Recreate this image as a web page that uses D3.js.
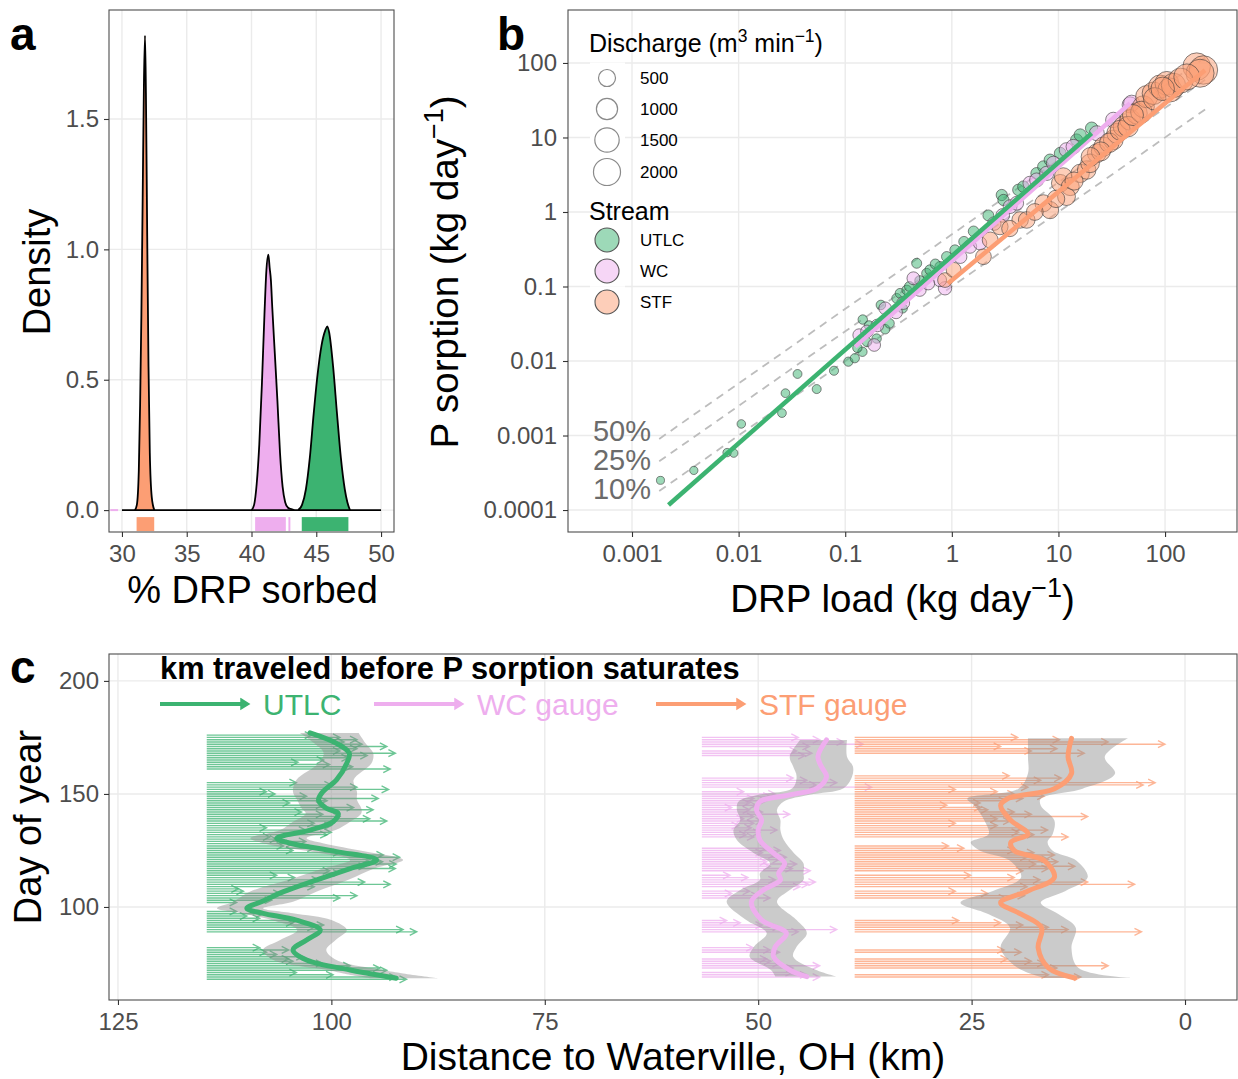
<!DOCTYPE html>
<html><head><meta charset="utf-8">
<script src="https://cdn.jsdelivr.net/npm/d3@7/dist/d3.min.js"></script>
<style>html,body{margin:0;padding:0;background:#fff;}</style>
</head><body>
<svg id="chart" width="1238" height="1079" xmlns="http://www.w3.org/2000/svg"></svg>
<script>
// ================= DATA =================
// Panel a : density of % DRP sorbed
const stfDensX=[31.0,31.15,31.3,31.4,31.5,31.6,31.7,31.78,31.85,31.95,32.05,32.15,32.3,32.5];
const stfDensY=[0,0.02,0.15,0.4,0.75,1.2,1.65,1.82,1.6,1.05,0.55,0.22,0.05,0];
const wcDensX=[40.0,40.2,40.4,40.6,40.8,41.0,41.15,41.3,41.4,41.5,41.6,41.8,42.0,42.2,42.4,42.6,42.8,43.0,43.3];
const wcDensY=[0,0.02,0.1,0.25,0.48,0.75,0.92,0.98,0.93,0.88,0.78,0.6,0.42,0.22,0.09,0.03,0.01,0.005,0];
const utlcDensX=[43.6,43.9,44.2,44.5,44.8,45.1,45.4,45.7,45.85,46.0,46.3,46.6,46.9,47.2,47.4,47.6];
const utlcDensY=[0,0.02,0.08,0.2,0.37,0.52,0.63,0.69,0.705,0.68,0.55,0.37,0.2,0.08,0.03,0];
const rugStream=['STF','WC','WC','UTLC'];
const rugFrom=[31.13,40.28,42.85,43.88];
const rugTo=[32.49,42.65,43.0,47.48];
const aTicksX=[30,35,40,45,50];
const aTicksY=[0,0.5,1,1.5];

// Panel b : P sorption vs DRP load (kg/day), discharge (m3/min)
const utlcLoad=[0.00185,0.0038,0.0078,0.009,0.0106,0.0255,0.0275,0.0357,0.054,0.0785,0.107,0.123,0.145,0.146,0.167,0.197,0.216,0.237,0.26,0.345,0.304,0.327,0.378,0.468,0.581,0.624,0.774,0.895,1.07,2.94,3.05,4.21,4.69,6.25,7.23,8.34,10.4,14.8,16.0,20.5,0.4,0.5,0.7,1.3,1.6,2.2,0.16,0.13];
const utlcSorp=[0.00025,0.00034,0.00059,0.00058,0.00143,0.0020,0.0037,0.0067,0.0042,0.0074,0.0098,0.0109,0.0133,0.036,0.030,0.020,0.0565,0.0267,0.032,0.051,0.0693,0.081,0.0897,0.205,0.150,0.167,0.185,0.251,0.309,1.69,1.45,1.98,2.19,3.30,4.06,4.99,6.14,9.27,10.8,13.3,0.10,0.12,0.20,0.40,0.55,0.90,0.018,0.015];
const utlcQ=[5,8,10,10,12,15,15,18,20,22,25,25,28,30,30,30,32,32,35,35,40,40,40,45,45,50,50,55,55,90,90,100,100,110,110,120,120,130,140,150,40,42,48,60,65,75,30,28];
const wcLoad=[0.135,0.187,0.237,0.436,0.863,0.774,1.48,1.84,3.52,4.06,5.41,6.25,7.76,11.9,13.8,22.9,32.7,47.0,48.6,0.3,0.35,0.5,0.6,0.2,1.2,2.5,3.0,9.0,0.16];
const wcSorp=[0.0223,0.0164,0.051,0.129,0.0946,0.122,0.343,0.380,1.18,1.31,2.43,2.69,3.30,6.81,7.53,11.4,17.2,27.4,28.8,0.045,0.06,0.09,0.11,0.03,0.25,0.7,0.9,4.5,0.025];
const wcQ=[150,160,160,170,200,190,200,200,230,230,250,250,260,280,290,320,350,400,420,165,170,175,180,160,195,215,220,265,155];
const stfLoad=[0.863,1.04,1.98,2.29,2.83,4.37,5.04,7.23,8.34,10.4,11.1,12.9,11.9,16.0,18.4,22.9,19.8,26.4,32.7,35.2,40.6,47.0,54.2,62.7,67.3,77.8,89.8,104,111,198,229,213,30,38,45,25,14,60,80,120,140,160,9.5,6,3.5,50,95,20];
const stfSorp=[0.122,0.167,0.251,0.421,0.635,0.782,0.782,1.31,1.06,2.43,2.98,2.19,1.61,3.30,3.66,6.14,4.50,7.53,9.27,11.4,14.0,17.2,21.1,25.9,35.3,39.2,48.2,53.3,43.4,89.3,80.5,72.8,8.5,12.5,14,6.5,2.6,22,33,50,58,65,1.5,1.0,0.6,20,45,5.5];
const stfQ=[300,320,380,400,420,450,460,500,520,560,580,600,590,640,660,700,680,740,800,820,880,950,1000,1100,1150,1200,1300,1400,1450,2100,2300,2200,780,850,900,720,620,1050,1200,1500,1600,1800,540,480,430,980,1350,690];
// fitted lines (end points)
const fitStream=['WC','UTLC','STF'];
const fitLoad0=[0.124,0.0022,0.92];
const fitSorp0=[0.0156,0.000117,0.11];
const fitLoad1=[47,20.5,237];
const fitSorp1=[28.8,11.4,80];
const refFrac=[0.5,0.25,0.1];
const refLabel=['50%','25%','10%'];
const refLoadRange=[0.0018,240];
const bTicksX=[0.001,0.01,0.1,1,10,100];
const bTicksY=[0.0001,0.001,0.01,0.1,1,10,100];
const sizeLegendQ=[500,1000,1500,2000];
const streamNames=['UTLC','WC','STF'];

// Panel c : km travelled before P sorption saturates
const utlcStartKm=114.6, wcStartKm=56.6, stfStartKm=38.7;
const utlcDays=[176,175,174,173,172,171,170,169,168,167,166,165,164,163,162,161,
155,154,153,152,151,150,149,148,147,146,145,144,143,142,141,140,139,138,137,136,135,134,133,132,131,130,129,128,127,126,125,124,123,122,121,120,119,118,117,116,115,114,113,112,111,110,109,108,107,106,105,104,103,102,
98,97,96,95,94,93,92,91,90,89,
82,81,80,79,78,77,76,75,74,73,72,71,70,69,68];
const utlcEnd=[102.3,99,97,98.5,96.4,93.5,97,99,92.5,95.8,98,100.9,103.9,100.2,97.5,93.1,
104.1,100,97.0,93.3,107.6,106.6,102.9,94.5,100.5,104.9,101,97.4,95.1,103.5,101,99,95.5,93.5,102,100,107.6,103,100,100.5,107.2,106.4,103,104.5,105.6,102,104.5,99,93.9,92,95.5,94,92.4,96,92.5,100.2,99,106.4,104.3,101.5,96.1,93.1,102,110.9,110.3,106,97.0,99,107,111.1,
111.1,108,109.9,108.4,104,104.5,100.9,102,91.6,90,
108.4,105,107.6,106.4,103.3,105,104.5,101,97.8,94.3,93.5,104.1,99.8,92.4,91.2];
const wcDays=[175,174,173,172,171,169,168,167,157,156,155,154,153,
151,150,149,148,147,146,145,144,143,142,141,140,139,138,137,136,135,134,133,132,131,
126,125,124,123,122,121,120,119,118,117,116,114,113,112,111,110,109,107,106,105,104,
94,93,92,91,90,89,82,81,80,77,76,75,74,73,71,70,69];
const wcEnd=[45.3,42.8,40.0,37.7,44,45.5,43.7,44.5,45.9,44.3,40.8,43.2,36.7,
51.7,48,48.6,50.5,49,51,50.2,53.1,51,49.5,46.3,50.5,51.7,49.5,50.5,52.3,50.8,47.8,49.8,51.4,50.5,
49,47.4,49.5,48,46.7,47.5,49,45.5,48.6,46,43.9,53.3,51.2,48,43.3,44.1,45.1,51,53.1,50,48.6,
53.7,52.1,49.5,47.5,40.8,45.3,50.6,48.6,47.5,49,48.5,47.5,42.8,45.9,46,44.3,42.8];
const stfDays=[175,174,173,172,171,170,169,168,
158,157,156,155,154,153,152,151,150,149,148,147,146,145,144,143,142,141,140,139,138,137,136,135,134,133,132,131,
127,126,125,124,123,122,121,120,119,118,117,116,114,113,112,111,110,109,107,106,105,104,
94,93,92,91,90,89,81,80,77,76,75,74,73,70,69];
const stfEnd=[19.6,14.7,9.0,2.35,21.6,15,18.0,11.8,
20.6,14.5,16.9,3.5,4.9,18.4,26.9,22,20,16.5,19,21,24,27.9,23.9,23.1,20,18.0,11.4,22,20.5,26.9,22,19,16.1,19.5,17.7,13.7,
27.7,25.9,20,17.7,15.3,18.5,16,14.9,17.5,12.9,16,19,25.1,20,17,11.4,5.9,18.5,26.9,23.1,18.8,21,
26.5,21.6,19,16,13.7,5.1,21.2,19.2,20.8,18,16.5,9.0,15,16,12.2];
// smoothed trend and its band
const utlcSmDay=[68.5,70.6,72.1,76.5,81,85.4,89.8,94.2,97.2,99.4,102.3,106.8,112,117,120.8,124.5,128.2,130.4,134,137.7,141.4,143.7,147.3,151,156.2,163.6,168,172.4,177];
const utlcSmKm=[92.4,95.6,97.8,102.9,104.5,102.9,101.3,104.1,108,109.9,108.2,105.6,101.7,97.8,94.7,99.4,104.8,106.4,102.5,99.8,99.2,100.6,101.5,101,99.4,98.2,97.9,99.4,102.5];
const utlcSmLo=[95.5,98.6,100.5,106.8,108,106,104,107,110.5,113.4,111.5,109.5,105,101,97.8,102.5,108,109.5,106,104.5,103,103.5,104,104.5,104.1,101.5,100.9,102,103.7];
const utlcSmHi=[87.5,91.6,94,99.4,100.6,99.5,98.2,100,104.5,108,104.5,101.7,98,95,91.6,96,101,102.9,99.5,97.8,96.5,96.5,97,97,97.4,95.3,95.1,96,96.8];
const wcSmDay=[69.2,72.1,78,82.4,88.4,94.2,102.3,107.5,111.9,114.9,119.3,123.8,129.6,134.1,138.5,142.9,146.6,149.6,152.5,157.7,162.1,166.5,173.9];
const wcSmKm=[44.3,46.3,48.2,48.0,46.7,49.6,50.8,49.4,47.4,47.6,46.9,48.2,49.8,50.0,49.6,50.2,49.8,46.3,43.1,42.0,42.6,43.0,42.0];
const wcSmLo=[48,48.5,51,50.5,49,51.4,53.7,52.1,49.8,49.8,48.6,50.5,52.5,52.9,52.1,52.5,52.3,50,46,45.5,45.9,46.3,45.1];
const wcSmHi=[40.8,43.2,45.9,45.5,44.3,45.5,47.8,46.3,44.7,44.7,44.7,45.8,47,47.4,47.4,47.8,47,44,40,39,38.9,39.6,39.6];
const stfSmDay=[68.6,73.1,81.9,90.8,96.8,101.9,107.1,113.1,120.5,124.9,128.6,132.3,138.3,144.9,147.9,152.3,159.0,166.4,174.6];
const stfSmKm=[12.9,16.0,17.2,16.8,19.2,21.6,18.4,15.3,16.5,20.0,20.4,18.4,20.4,21.6,20.8,15.3,13.3,13.7,13.3];
const stfSmLo=[16.5,19.6,21.6,20.5,23,26.3,22.5,19.2,20.5,24,25.1,23,23.5,24.7,25.5,19.5,18.4,18.4,18.4];
const stfSmHi=[6.3,12.5,13.3,12.8,14.8,16.9,14,11.4,12.7,15.5,16.1,15.5,15.3,16.9,16.9,12,8.2,9.4,6.7];
const cTicksX=[125,100,75,50,25,0];
const cTicksY=[100,150,200];
const cLegendLabels=['UTLC','WC gauge','STF gauge'];

// ================= DRAWING =================
const FONT='"Liberation Sans", Arial, Helvetica, sans-serif';
const COL={UTLC:'#3CB371', WC:'#EEAEEE', STF:'#FC9E74'};
const GRID='#EBEBEB', BORDER='#4D4D4D', TICKTXT='#4D4D4D';
const svg=d3.select('#chart').style('font-family',FONT);

function styleAxis(g){
  g.select('.domain').remove();
  g.selectAll('.tick line').attr('stroke','#333').attr('stroke-width',1.1);
  g.selectAll('.tick text').attr('fill',TICKTXT).style('font-size','24px').style('font-family',FONT);
}
function gridLines(g, vals, fn){
  g.append('g').selectAll('line').data(vals).join('line').each(function(d){
    const c=fn(d); d3.select(this).attr('x1',c[0]).attr('y1',c[1]).attr('x2',c[2]).attr('y2',c[3]);
  }).attr('stroke',GRID).attr('stroke-width',1.4);
}
function addSup(textSel, parts, fs){
  let prevSup=false;
  parts.forEach(p=>{
    const ts=textSel.append('tspan').text(p.t);
    if(p.sup){ ts.attr('font-size',fs*0.7).attr('dy',-fs*0.4); prevSup=true; }
    else if(prevSup){ ts.attr('dy',fs*0.4); prevSup=false; }
  });
}

// ---------- Panel a ----------
const A={l:109,r:394,t:10,b:532};
const xA=d3.scaleLinear().domain([29,51]).range([A.l,A.r]);
const yA=d3.scaleLinear().domain([-0.084,1.918]).range([A.b,A.t]);
const ga=svg.append('g');
gridLines(ga,aTicksX,d=>[xA(d),A.t,xA(d),A.b]);
gridLines(ga,aTicksY,d=>[A.l,yA(d),A.r,yA(d)]);
const densSets=[{s:'STF',x:stfDensX,y:stfDensY},{s:'WC',x:wcDensX,y:wcDensY},{s:'UTLC',x:utlcDensX,y:utlcDensY}];
const areaA=d3.area().x(d=>xA(d[0])).y0(yA(0)).y1(d=>yA(d[1])).curve(d3.curveMonotoneX);
const lineA=d3.line().x(d=>xA(d[0])).y(d=>yA(d[1])).curve(d3.curveMonotoneX);
ga.append('line').attr('x1',xA(29.1)).attr('x2',xA(29.7)).attr('y1',yA(0)).attr('y2',yA(0)).attr('stroke',COL.WC).attr('stroke-width',2);
densSets.forEach(ds=>{
  const pts=ds.x.map((v,i)=>[v,ds.y[i]]);
  ga.append('path').attr('d',areaA(pts)).attr('fill',COL[ds.s]);
});
ga.append('line').attr('x1',xA(30)).attr('x2',xA(50)).attr('y1',yA(0)).attr('y2',yA(0)).attr('stroke','#000').attr('stroke-width',1.8);
densSets.forEach(ds=>{
  const pts=ds.x.map((v,i)=>[v,ds.y[i]]);
  ga.append('path').attr('d',lineA(pts)).attr('fill','none').attr('stroke','#000').attr('stroke-width',1.8).attr('stroke-linejoin','round');
});
rugFrom.forEach((f,i)=>{
  ga.append('rect').attr('x',xA(f)).attr('width',xA(rugTo[i])-xA(f)).attr('y',yA(0)+7).attr('height',14).attr('fill',COL[rugStream[i]]);
});
ga.append('rect').attr('x',A.l).attr('y',A.t).attr('width',A.r-A.l).attr('height',A.b-A.t).attr('fill','none').attr('stroke',BORDER).attr('stroke-width',1.1);
ga.append('g').attr('transform',`translate(0,${A.b})`).call(d3.axisBottom(xA).tickValues(aTicksX).tickSize(5).tickPadding(8).tickFormat(d3.format('d'))).call(styleAxis);
ga.append('g').attr('transform',`translate(${A.l},0)`).call(d3.axisLeft(yA).tickValues(aTicksY).tickSize(5).tickPadding(5).tickFormat(d3.format('.1f'))).call(styleAxis);
ga.append('text').attr('x',(A.l+A.r)/2+1).attr('y',603).attr('text-anchor','middle').attr('font-size',38).attr('fill','#000').text('% DRP sorbed');
ga.append('text').attr('transform','translate(50,272) rotate(-90)').attr('text-anchor','middle').attr('font-size',38).attr('fill','#000').text('Density');
svg.append('text').attr('x',10).attr('y',50).attr('font-size',46).attr('font-weight','bold').text('a');

// ---------- Panel b ----------
const B={l:568,r:1237,t:10,b:532};
const xB=d3.scaleLog().domain([0.000251,473]).range([B.l,B.r]);
const yB=d3.scaleLog().domain([5.07e-5,514]).range([B.b,B.t]);
const rB=d3.scaleSqrt().domain([0,2300]).range([3.5,14.25]);
const gb=svg.append('g');
gridLines(gb,bTicksX,d=>[xB(d),B.t,xB(d),B.b]);
gridLines(gb,bTicksY,d=>[B.l,yB(d),B.r,yB(d)]);
// reference lines
const refLabelY=[441,470,499];
refFrac.forEach((p,i)=>{
  const pts=refLoadRange.map(x=>[x,x*p]);
  gb.append('path').attr('d',d3.line().x(d=>xB(d[0])).y(d=>yB(d[1]))(pts)).attr('fill','none').attr('stroke','#BDBDBD').attr('stroke-width',1.8).attr('stroke-dasharray','8,6');
  gb.append('text').attr('x',651).attr('y',refLabelY[i]).attr('text-anchor','end').attr('font-size',29).attr('fill','#6B6B6B').text(refLabel[i]);
});
// legend key backgrounds (white)
const sizeRowsY=[78,109,140,172], streamRowsY=[240,271,302];
sizeRowsY.concat(streamRowsY).forEach(y=>{
  gb.append('rect').attr('x',590).attr('y',y-15.5).attr('width',35).attr('height',31).attr('fill','#fff');
});
// points
const pointSets=[{s:'UTLC',L:utlcLoad,S:utlcSorp,Q:utlcQ},{s:'WC',L:wcLoad,S:wcSorp,Q:wcQ},{s:'STF',L:stfLoad,S:stfSorp,Q:stfQ}];
pointSets.forEach(ps=>{
  gb.append('g').selectAll('circle').data(ps.L.map((l,i)=>({l,s:ps.S[i],q:ps.Q[i]}))).join('circle')
    .attr('cx',d=>xB(d.l)).attr('cy',d=>yB(d.s)).attr('r',d=>rB(d.q))
    .attr('fill',COL[ps.s]).attr('fill-opacity',0.5).attr('stroke','#3a3a3a').attr('stroke-opacity',0.6).attr('stroke-width',1);
});
fitStream.forEach((s,i)=>{
  gb.append('line').attr('x1',xB(fitLoad0[i])).attr('y1',yB(fitSorp0[i])).attr('x2',xB(fitLoad1[i])).attr('y2',yB(fitSorp1[i]))
    .attr('stroke',COL[s]).attr('stroke-width',4.5).attr('stroke-linecap','butt');
});
gb.append('rect').attr('x',B.l).attr('y',B.t).attr('width',B.r-B.l).attr('height',B.b-B.t).attr('fill','none').attr('stroke',BORDER).attr('stroke-width',1.1);
gb.append('g').attr('transform',`translate(0,${B.b})`).call(d3.axisBottom(xB).tickValues(bTicksX).tickSize(5).tickPadding(8).tickFormat(d=>String(d))).call(styleAxis);
gb.append('g').attr('transform',`translate(${B.l},0)`).call(d3.axisLeft(yB).tickValues(bTicksY).tickSize(5).tickPadding(6).tickFormat(d=>String(d))).call(styleAxis);
addSup(gb.append('text').attr('x',(B.l+B.r)/2).attr('y',612).attr('text-anchor','middle').attr('font-size',38.5).attr('fill','#000'),
  [{t:'DRP load (kg day'},{t:'\u22121',sup:true},{t:')'}],38.5);
addSup(gb.append('text').attr('transform','translate(458,272) rotate(-90)').attr('text-anchor','middle').attr('font-size',38.5).attr('fill','#000'),
  [{t:'P sorption (kg day'},{t:'\u22121',sup:true},{t:')'}],38.5);
// legend
addSup(gb.append('text').attr('x',589).attr('y',52).attr('font-size',25).attr('fill','#000'),
  [{t:'Discharge (m'},{t:'3',sup:true},{t:' min'},{t:'\u22121',sup:true},{t:')'}],25);
sizeLegendQ.forEach((q,i)=>{
  gb.append('circle').attr('cx',607).attr('cy',sizeRowsY[i]).attr('r',rB(q)).attr('fill','none').attr('stroke','#8a8a8a').attr('stroke-width',1.2);
  gb.append('text').attr('x',640).attr('y',sizeRowsY[i]+6).attr('font-size',17).text(q);
});
gb.append('text').attr('x',589).attr('y',220).attr('font-size',25).text('Stream');
streamNames.forEach((s,i)=>{
  gb.append('circle').attr('cx',607).attr('cy',streamRowsY[i]).attr('r',12).attr('fill',COL[s]).attr('fill-opacity',0.5).attr('stroke','#555').attr('stroke-width',1.1);
  gb.append('text').attr('x',640).attr('y',streamRowsY[i]+6).attr('font-size',17).text(s);
});
svg.append('text').attr('x',497).attr('y',50).attr('font-size',46).attr('font-weight','bold').text('b');

// ---------- Panel c ----------
const C={l:109,r:1237,t:654,b:1000};
const xC=d3.scaleLinear().domain([126.05,-6.09]).range([C.l,C.r]);
const yC=d3.scaleLinear().domain([58.85,211.9]).range([C.b,C.t]);
const gc=svg.append('g');
gridLines(gc,cTicksX,d=>[xC(d),C.t,xC(d),C.b]);
gridLines(gc,cTicksY,d=>[C.l,yC(d),C.r,yC(d)]);
const arrowSets=[{s:'UTLC',start:utlcStartKm,D:utlcDays,E:utlcEnd},{s:'WC',start:wcStartKm,D:wcDays,E:wcEnd},{s:'STF',start:stfStartKm,D:stfDays,E:stfEnd}];
arrowSets.forEach(as=>{
  gc.append('g').selectAll('path').data(as.D.map((d,i)=>({d,e:as.E[i]}))).join('path')
    .attr('d',o=>{const x0=xC(as.start),x1=xC(o.e),y=yC(o.d);
      return `M${x0},${y}H${x1}M${x1-7},${y-3.5}L${x1},${y}L${x1-7},${y+3.5}`;})
    .attr('fill','none').attr('stroke',COL[as.s]).attr('stroke-opacity',0.75).attr('stroke-width',1.4);
});
const smSets=[{s:'UTLC',D:utlcSmDay,K:utlcSmKm,Lo:utlcSmLo,Hi:utlcSmHi},{s:'WC',D:wcSmDay,K:wcSmKm,Lo:wcSmLo,Hi:wcSmHi},{s:'STF',D:stfSmDay,K:stfSmKm,Lo:stfSmLo,Hi:stfSmHi}];
const areaC=d3.area().y(d=>yC(d.d)).x0(d=>xC(d.lo)).x1(d=>xC(d.hi)).curve(d3.curveCatmullRom.alpha(0.5));
smSets.forEach(ss=>{
  const pts=ss.D.map((d,i)=>({d,lo:ss.Lo[i],hi:ss.Hi[i]}));
  gc.append('path').attr('d',areaC(pts)).attr('fill','#8C8C8C').attr('fill-opacity',0.45);
});
const lineC=d3.line().x(d=>xC(d.k)).y(d=>yC(d.d)).curve(d3.curveCatmullRom.alpha(0.5));
smSets.forEach(ss=>{
  const pts=ss.D.map((d,i)=>({d,k:ss.K[i]}));
  gc.append('path').attr('d',lineC(pts)).attr('fill','none').attr('stroke',COL[ss.s]).attr('stroke-width',5).attr('stroke-linecap','round');
});
gc.append('rect').attr('x',C.l).attr('y',C.t).attr('width',C.r-C.l).attr('height',C.b-C.t).attr('fill','none').attr('stroke',BORDER).attr('stroke-width',1.1);
gc.append('g').attr('transform',`translate(0,${C.b})`).call(d3.axisBottom(xC).tickValues(cTicksX).tickSize(5).tickPadding(8).tickFormat(d3.format('d'))).call(styleAxis);
gc.append('g').attr('transform',`translate(${C.l},0)`).call(d3.axisLeft(yC).tickValues(cTicksY).tickSize(5).tickPadding(5).tickFormat(d3.format('d'))).call(styleAxis);
gc.append('text').attr('x',673).attr('y',1070).attr('text-anchor','middle').attr('font-size',39).text('Distance to Waterville, OH (km)');
gc.append('text').attr('transform','translate(41,827) rotate(-90)').attr('text-anchor','middle').attr('font-size',38).text('Day of year');
// in-panel legend
gc.append('text').attr('x',160).attr('y',679).attr('font-size',30.8).attr('font-weight','bold').text('km traveled before P sorption saturates');
const legX=[160,374,656];
streamNames.forEach((s,i)=>{
  const x0=legX[i], x1=x0+89, y=704;
  gc.append('line').attr('x1',x0).attr('x2',x1-3).attr('y1',y).attr('y2',y).attr('stroke',COL[s]).attr('stroke-width',4);
  gc.append('path').attr('d',`M${x1-8},${y-5}L${x1},${y}L${x1-8},${y+5}Z`).attr('fill',COL[s]).attr('stroke',COL[s]).attr('stroke-width',1.5);
  gc.append('text').attr('x',x1+14).attr('y',715).attr('font-size',30).attr('fill',COL[s]).text(cLegendLabels[i]);
});
svg.append('text').attr('x',10).attr('y',683).attr('font-size',46).attr('font-weight','bold').text('c');
</script>
</body></html>
